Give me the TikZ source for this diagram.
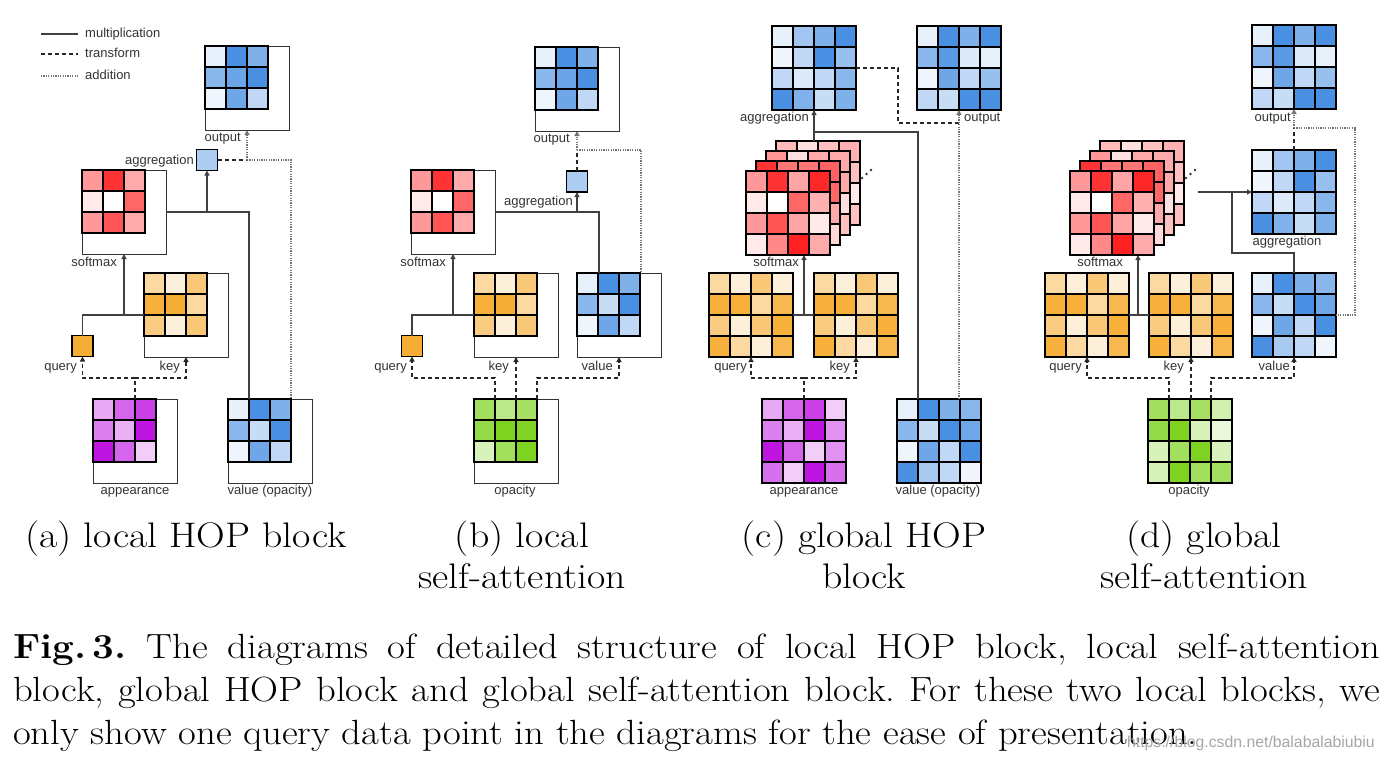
\documentclass[tikz,border=0pt]{standalone}
\usepackage{fontspec}
\newfontfamily\lblfont{Liberation Sans}
\usetikzlibrary{arrows.meta}
\definecolor{cblue}{HTML}{4A90E2}
\definecolor{cred}{HTML}{FF1F1F}
\definecolor{corange}{HTML}{F5A623}
\definecolor{cpurple}{HTML}{BD10E0}
\definecolor{cgreen}{HTML}{7ED321}
\newcommand\cellsgrid[5]{%
  \foreach \v [count=\k from 0] in {#5} {
    \pgfmathtruncatemacro\rr{floor(\k/#3)}
    \pgfmathtruncatemacro\cc{mod(\k,#3)}
    \path[fill=#4!\v, draw=black, line width=1.2pt] ({#1+21*\cc},{#2+21*\rr}) rectangle ++(21,21);
  }%
}
\newcommand\capwide[1]{\scalebox{1.12}[1]{#1}}
\newcommand\figwide[1]{\scalebox{1.105}[1]{#1}}
\tikzset{
  frame/.style={draw=black!80, line width=1pt, inner sep=0pt, outer sep=0pt, minimum width=84pt, minimum height=84pt, anchor=north west},
  gridnode/.style={inner sep=0pt, outer sep=0pt, minimum width=84pt, minimum height=84pt, anchor=north west},
  smallbox/.style={draw=black, line width=1.2pt, inner sep=0pt, outer sep=0pt, minimum size=21pt},
  lbl/.style={font=\lblfont\fontsize{13}{15}\selectfont, text=black!80, inner sep=0pt},
  capf/.style={font=\fontsize{35.5}{41}\selectfont, inner sep=0pt, anchor=base},
  figf/.style={font=\fontsize{35}{42}\selectfont\frenchspacing, inner sep=0pt, anchor=base west},
  mult/.style={draw=black!75, line width=1.2pt},
  trans/.style={draw=black!85, line width=1.2pt, dash pattern=on 4pt off 3pt},
  addn/.style={draw=black!55, line width=1.2pt, dash pattern=on 1.2pt off 1.2pt},
  arr/.style={-{Triangle[length=5pt,width=5pt]}},
  dotc/.style={fill=black!80},
}
\begin{document}
\begin{tikzpicture}[x=1pt,y=-1pt]
\fill[white] (0,0) rectangle (1384,761);
\useasboundingbox (0,0) rectangle (1384,761);

% ---------- legend ----------
\coordinate (lg1a) at (41,34); \coordinate (lg1b) at (78,34);
\coordinate (lg2a) at (41,54); \coordinate (lg2b) at (78,54);
\coordinate (lg3a) at (41,76); \coordinate (lg3b) at (78,76);
\draw[mult] (lg1a) -- (lg1b);
\draw[trans] (lg2a) -- (lg2b);
\draw[addn] (lg3a) -- (lg3b);
\node[lbl,anchor=mid west] (lgm) at (85,35) {multiplication};
\node[lbl,anchor=mid west] (lgt) at (85,55) {transform};
\node[lbl,anchor=mid west] (lga) at (85,77) {addition};

% ---------- (a) local HOP block ----------
\node[frame] (aout) at (205,46) {};
\cellsgrid{205}{46}{3}{cblue}{13,100,71,65,82,100,9,80,35}
\node[lbl,anchor=mid east] (aoutl) at (241,139) {output};
\node[smallbox,fill=cblue!45] (aagg) at (207,160) {};
\node[lbl,anchor=mid east] (aaggl) at (194,162) {aggregation};
\node[frame] (asoft) at (82,170) {};
\cellsgrid{82}{170}{3}{cred}{46,91,38,10,0,68,46,76,38}
\node[lbl,anchor=mid east] (asoftl) at (117,264) {softmax};
\node[frame] (akey) at (144,273) {};
\cellsgrid{144}{273}{3}{corange}{43,17,62,89,92,43,57,17,62}
\node[lbl,anchor=mid east] (akeyl) at (180,368) {key};
\node[smallbox,fill=corange!92] (aq) at (82.5,346) {};
\node[lbl,anchor=mid east] (aql) at (77,368) {query};
\node[frame] (aapp) at (93,399) {};
\cellsgrid{93}{399}{3}{cpurple}{36,64,80,53,33,98,98,64,21}
\node[lbl,anchor=mid] (aappl) at (135,492) {appearance};
\node[frame] (aval) at (228,399) {};
\cellsgrid{228}{399}{3}{cblue}{13,100,71,65,31,100,9,80,35}
\node[lbl,anchor=mid] (avall) at (270,492) {value (opacity)};

\coordinate (a1) at (249,212);
\coordinate (a2) at (247,160);
\coordinate (a3) at (291,160);
\coordinate (a4) at (135,378);
\draw[mult] (asoft.east) -- (a1) -- (a1 |- aval.north);
\draw[mult,arr] (aagg.south |- asoft.east) -- (aagg.south);
\draw[trans] (aagg.east) -- (a2);
\draw[addn,arr] (a2) -- (aout.south);
\draw[addn] (a2) -- (a3) -- (a3 |- aval.north);
\draw[mult] (aq.north) |- (akey.west);
\draw[mult,arr] (asoft.south |- akey.west) -- (asoft.south);
\draw[trans] (aapp.north) -- (a4);
\draw[trans,arr] (a4) -| (aq.south);
\draw[trans,arr] (a4) -| (akey.south);

\node[capf] (capa) at (186,547) {\capwide{(a) local HOP block}};

% ---------- (b) local self-attention ----------
\node[frame] (bout) at (535,47) {};
\cellsgrid{535}{47}{3}{cblue}{13,100,71,65,82,100,9,80,35}
\node[lbl,anchor=mid east] (boutl) at (570,140) {output};
\node[smallbox,fill=cblue!45] (bagg) at (577,181.5) {};
\node[lbl,anchor=mid east] (baggl) at (573,203) {aggregation};
\node[frame] (bsoft) at (411,170) {};
\cellsgrid{411}{170}{3}{cred}{46,91,38,10,0,68,46,76,38}
\node[lbl,anchor=mid east] (bsoftl) at (446,264) {softmax};
\node[frame] (bkey) at (474,273) {};
\cellsgrid{474}{273}{3}{corange}{43,17,62,89,92,43,57,17,62}
\node[lbl,anchor=mid east] (bkeyl) at (509,368) {key};
\node[frame] (bval) at (577,273) {};
\cellsgrid{577}{273}{3}{cblue}{13,100,71,65,31,100,9,80,35}
\node[lbl,anchor=mid east] (bvall) at (613,368) {value};
\node[smallbox,fill=corange!92] (bq) at (412,346) {};
\node[lbl,anchor=mid east] (bql) at (407,368) {query};
\node[frame] (bopa) at (474,399) {};
\cellsgrid{474}{399}{3}{cgreen}{72,52,70,82,100,98,30,73,100}
\node[lbl,anchor=mid] (bopal) at (515,492) {opacity};

\coordinate (b1) at (599,212);
\coordinate (b2) at (577,150);
\coordinate (b3) at (641,150);
\coordinate (b4) at (495,378);
\coordinate (b5) at (537,378);
\draw[mult] (bsoft.east) -- (b1) -- (b1 |- bval.north);
\draw[mult,arr] (bagg.south |- bsoft.east) -- (bagg.south);
\draw[trans] (bagg.north) -- (b2);
\draw[addn,arr] (b2) -- (bout.south);
\draw[addn] (b2) -- (b3) -- (b3 |- bval.north);
\draw[mult] (bq.north) |- (bkey.west);
\draw[mult,arr] (bsoft.south |- bkey.west) -- (bsoft.south);
\draw[trans,arr] (b4 |- bopa.north) -- (b4) -| (bq.south);
\draw[trans,arr] (bopa.north) -- (bkey.south);
\draw[trans,arr] (b5 |- bopa.north) -- (b5) -| (bval.south);

\node[capf] (capb1) at (522,547) {\capwide{(b) local}};
\node[capf] (capb2) at (522,588) {\capwide{self-attention}};

% ---------- (c) global HOP block ----------
\node[gridnode] (cagg) at (772,26) {};
\cellsgrid{772}{26}{4}{cblue}{13,52,71,100,8,35,100,57,35,19,35,65,100,70,31,71}
\node[lbl,anchor=mid east] (caggl) at (809,119) {aggregation};
\node[gridnode] (cout) at (917,26) {};
\cellsgrid{917}{26}{4}{cblue}{13,100,71,100,65,91,19,13,9,80,35,57,35,31,100,100}
\node[lbl,anchor=mid west] (coutl) at (964,119) {output};
\node[gridnode] (csoft4) at (776,141) {};
\cellsgrid{776}{141}{4}{cred}{31,14,28,35,30,30,30,28,30,30,30,10,30,30,30,28}
\node[gridnode] (csoft3) at (766,151) {};
\cellsgrid{766}{151}{4}{cred}{46,14,38,38,30,30,30,38,30,30,30,14,30,30,30,28}
\node[gridnode] (csoft2) at (756,161) {};
\cellsgrid{756}{161}{4}{cred}{91,61,61,70,30,30,30,68,30,30,30,38,30,30,30,17}
\node[gridnode] (csoft1) at (746,171) {};
\cellsgrid{746}{171}{4}{cred}{46,91,40,96,10,0,68,35,46,76,40,10,10,53,99,38}
\node[lbl,anchor=mid east] (csoftl) at (799,264) {softmax};
\fill[dotc] (862,178) circle (1.3) (866.5,174) circle (1.3) (871,170) circle (1.3);
\node[gridnode] (cq) at (709,273) {};
\cellsgrid{709}{273}{4}{corange}{43,17,62,17,89,89,43,80,57,17,62,89,89,43,17,80}
\node[lbl,anchor=mid east] (cql) at (747,368) {query};
\node[gridnode] (ckey) at (814,273) {};
\cellsgrid{814}{273}{4}{corange}{43,17,62,17,89,89,43,80,57,17,62,89,89,43,17,80}
\node[lbl,anchor=mid east] (ckeyl) at (850,368) {key};
\node[gridnode] (capp) at (762,399) {};
\cellsgrid{762}{399}{4}{cpurple}{36,64,80,21,53,33,98,46,98,64,21,46,60,21,98,60}
\node[lbl,anchor=mid] (cappl) at (804,492) {appearance};
\node[gridnode] (cval) at (897,399) {};
\cellsgrid{897}{399}{4}{cblue}{13,100,71,65,65,31,100,79,9,80,35,100,100,48,35,8}
\node[lbl,anchor=mid] (cvall) at (938,492) {value (opacity)};

\coordinate (c1) at (918,132);
\coordinate (c2) at (898,123);
\coordinate (c3) at (959,123);
\coordinate (c4) at (804,315);
\coordinate (c5) at (804,378);
\draw[mult,arr] (cagg.south |- csoft4.north) -- (cagg.south);
\draw[mult] (cagg.south |- c1) -- (c1) -- (c1 |- cval.north);
\draw[trans] (cagg.east) -| (c2) -- (c3);
\draw[addn,arr] (cval.north -| c3) -- (cout.south);
\draw[mult] (cq.east) -- (ckey.west);
\draw[mult,arr] (c4) -- (c4 |- csoft1.south);
\draw[trans] (capp.north) -- (c5);
\draw[trans,arr] (c5) -| (cq.south);
\draw[trans,arr] (c5) -| (ckey.south);

\node[capf] (capc1) at (864,547) {\capwide{(c) global HOP}};
\node[capf] (capc2) at (864,588) {\capwide{block}};

% ---------- (d) global self-attention ----------
\node[gridnode] (dout) at (1252,25) {};
\cellsgrid{1252}{25}{4}{cblue}{13,100,71,100,65,91,19,13,9,80,35,57,35,31,100,100}
\node[lbl,anchor=mid east] (doutl) at (1291,119) {output};
\node[gridnode] (dagg) at (1252,150) {};
\cellsgrid{1252}{150}{4}{cblue}{13,52,71,100,8,35,100,57,35,19,35,65,100,70,31,71}
\node[lbl,anchor=mid] (daggl) at (1287,243) {aggregation};
\node[gridnode] (dsoft4) at (1100,141) {};
\cellsgrid{1100}{141}{4}{cred}{31,14,28,35,30,30,30,28,30,30,30,10,30,30,30,28}
\node[gridnode] (dsoft3) at (1090,151) {};
\cellsgrid{1090}{151}{4}{cred}{46,14,38,38,30,30,30,38,30,30,30,14,30,30,30,28}
\node[gridnode] (dsoft2) at (1080,161) {};
\cellsgrid{1080}{161}{4}{cred}{91,61,61,70,30,30,30,68,30,30,30,38,30,30,30,17}
\node[gridnode] (dsoft1) at (1070,171) {};
\cellsgrid{1070}{171}{4}{cred}{46,91,40,96,10,0,68,35,46,76,40,10,10,53,99,38}
\node[lbl,anchor=mid east] (dsoftl) at (1123,264) {softmax};
\fill[dotc] (1186,178) circle (1.3) (1190.5,174) circle (1.3) (1195,170) circle (1.3);
\node[gridnode] (dq) at (1045,273) {};
\cellsgrid{1045}{273}{4}{corange}{43,17,62,17,89,89,43,80,57,17,62,89,89,43,17,80}
\node[lbl,anchor=mid east] (dql) at (1082,368) {query};
\node[gridnode] (dkey) at (1149,273) {};
\cellsgrid{1149}{273}{4}{corange}{43,17,62,17,89,89,43,80,57,17,62,89,89,43,17,80}
\node[lbl,anchor=mid east] (dkeyl) at (1184,368) {key};
\node[gridnode] (dval) at (1252,273) {};
\cellsgrid{1252}{273}{4}{cblue}{13,100,71,65,65,31,100,79,9,80,35,100,100,48,35,8}
\node[lbl,anchor=mid east] (dvall) at (1290,368) {value};
\node[gridnode] (dopa) at (1148,399) {};
\cellsgrid{1148}{399}{4}{cgreen}{72,52,70,36,82,100,30,16,30,73,100,30,30,100,73,72}
\node[lbl,anchor=mid] (dopal) at (1189,492) {opacity};

\coordinate (d1) at (1198,192);
\coordinate (d2) at (1232,192);
\coordinate (d3) at (1232,253);
\coordinate (d4) at (1294,128);
\coordinate (d5) at (1355,128);
\coordinate (d6) at (1138,315);
\coordinate (d7) at (1169,378);
\coordinate (d8) at (1211,378);
\draw[mult,arr] (d1) -- (dagg.west);
\draw[mult] (d2) -- (d3) -| (dval.north);
\draw[trans] (dagg.north) -- (d4);
\draw[addn,arr] (d4) -- (dout.south);
\draw[addn] (d4) -- (d5) |- (dval.east);
\draw[mult] (dq.east) -- (dkey.west);
\draw[mult,arr] (d6) -- (d6 |- dsoft1.south);
\draw[trans,arr] (d7 |- dopa.north) -- (d7) -| (dq.south);
\draw[trans,arr] (dkey.south |- dopa.north) -- (dkey.south);
\draw[trans,arr] (d8 |- dopa.north) -- (d8) -| (dval.south);

\node[capf] (capd1) at (1204,547) {\capwide{(d) global}};
\node[capf] (capd2) at (1204,588) {\capwide{self-attention}};

% ---------- figure caption ----------
\node[figf] (fig1) at (13,658) {\figwide{\makebox[1237pt][s]{\textbf{Fig.\,3.} The diagrams of detailed structure of local HOP block, local self-attention}}};
\node[figf] (fig2) at (13,701) {\figwide{\makebox[1237pt][s]{block, global HOP block and global self-attention block. For these two local blocks, we}}};
\node[figf] (fig3) at (13,744) {\figwide{only show one query data point in the diagrams for the ease of presentation.}};
\node[font=\lblfont\fontsize{15.8}{18}\selectfont, text=black!35, anchor=base east, inner sep=0pt] (wm) at (1375,747) {https://blog.csdn.net/balabalabiubiu};
\end{tikzpicture}
\end{document}
